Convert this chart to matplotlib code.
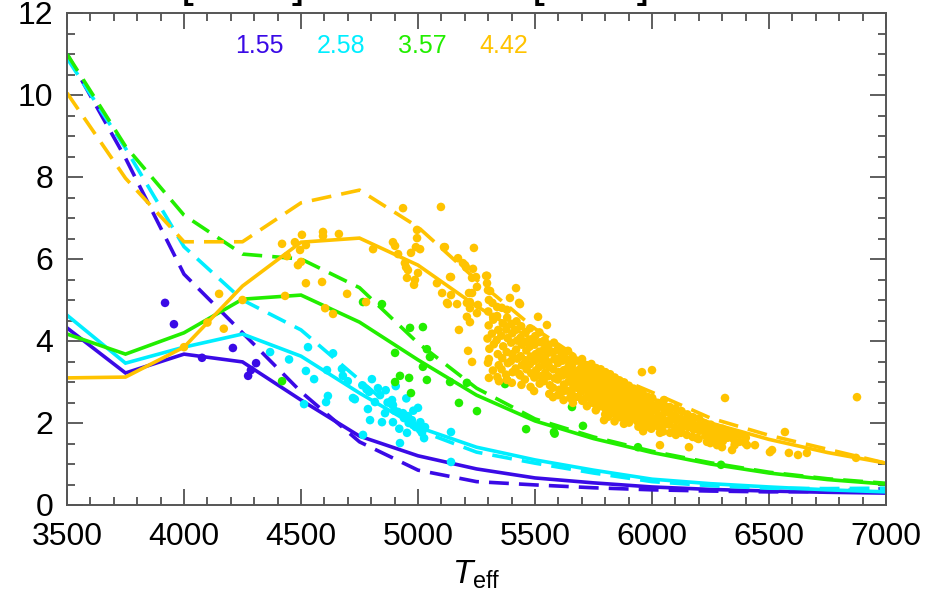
import numpy as np
import matplotlib
matplotlib.use("Agg")
import matplotlib.pyplot as plt
from matplotlib.ticker import MultipleLocator

plt.rcParams['font.family'] = ['Liberation Sans', 'DejaVu Sans']
plt.rcParams['mathtext.fontset'] = 'custom'
plt.rcParams['mathtext.rm'] = 'Liberation Sans'
plt.rcParams['mathtext.it'] = 'Liberation Sans:italic'

# model grid
teff = [3500, 3750, 4000, 4250, 4500, 4750, 5000, 5250, 5500, 5750, 6000, 6250, 6500, 6750, 7000]

# solid / dashed curves for each group
blue_solid = [4.32, 3.22, 3.68, 3.49, 2.56, 1.68, 1.20, 0.88, 0.66, 0.54, 0.44, 0.38, 0.34, 0.31, 0.29]
blue_dash = [11.0, 8.46, 5.63, 4.20, 2.76, 1.54, 0.85, 0.57, 0.49, 0.42, 0.37, 0.34, 0.32, 0.33, 0.40]
cyan_solid = [4.63, 3.46, 3.85, 4.17, 3.63, 2.73, 1.90, 1.41, 1.10, 0.85, 0.63, 0.52, 0.44, 0.37, 0.32]
cyan_dash = [10.9, 8.70, 6.30, 5.00, 4.27, 3.05, 1.83, 1.29, 1.02, 0.78, 0.57, 0.47, 0.41, 0.40, 0.41]
green_solid = [4.17, 3.68, 4.20, 5.02, 5.12, 4.46, 3.54, 2.68, 2.05, 1.62, 1.28, 1.00, 0.78, 0.62, 0.51]
green_dash = [11.0, 8.75, 7.07, 6.12, 6.00, 5.30, 3.95, 2.85, 2.10, 1.66, 1.31, 1.03, 0.80, 0.64, 0.53]
orange_solid = [3.10, 3.12, 3.85, 5.34, 6.41, 6.51, 5.85, 4.85, 4.00, 3.30, 2.60, 2.00, 1.60, 1.28, 1.02]
orange_dash = [10.05, 7.97, 6.42, 6.42, 7.37, 7.68, 6.78, 5.49, 4.30, 3.35, 2.75, 2.12, 1.70, 1.36, 1.02]

labels = ['1.55', '2.58', '3.57', '4.42']
colors = ['#3a0ae6', '#00eeff', '#22ee00', '#ffc300']

# observed stars
blue_pts = [(3919, 4.93), (3957, 4.41), (4077, 3.59), (4209, 3.83), (4308, 3.46),
            (4286, 3.29), (4274, 3.15)]

cyan_pts = [(4368, 3.73), (4449, 3.55), (4530, 3.85), (4521, 3.27), (4556, 3.07),
            (4611, 3.29), (4637, 3.70), (4675, 3.32), (4679, 3.15), (4615, 2.66),
            (4607, 2.51), (4513, 2.46), (4722, 2.61), (4730, 2.58), (4803, 3.07),
            (4829, 2.85), (4791, 2.76), (4838, 2.68), (4816, 2.51), (4859, 2.24),
            (4889, 2.56), (4893, 2.44), (4915, 2.27), (4936, 2.24), (4957, 2.17),
            (4974, 2.07), (4979, 1.95), (5000, 2.37), (5009, 1.83), (5017, 1.76),
            (5026, 1.63), (4953, 1.76), (4923, 1.51), (4893, 2.02), (4846, 2.02),
            (4795, 2.07), (4786, 2.34), (4765, 1.71), (5141, 1.78), (5141, 1.05),
            (4960, 2.00), (4990, 1.90), (5010, 2.02), (4940, 2.12), (4900, 2.30),
            (4870, 2.50), (4950, 2.60), (4980, 2.30), (5030, 1.90), (4920, 1.86),
            (4862, 2.80), (4905, 2.90), (4780, 2.82), (4700, 3.02), (4762, 2.92)]

green_pts = [(4419, 3.02), (4765, 4.95), (4846, 4.90), (4902, 3.71), (4923, 3.15),
             (4902, 3.00), (4962, 3.10), (4966, 4.32), (5021, 4.34), (5038, 3.80),
             (5051, 3.61), (5021, 3.37), (5038, 3.05), (4970, 2.73), (5137, 3.00),
             (5175, 2.49), (5252, 2.29), (5372, 2.95), (5380, 3.05), (5462, 1.85),
             (5581, 1.78), (5584, 1.74), (5658, 2.39), (5705, 1.93), (5940, 1.41),
             (6295, 0.98), (5209, 2.98)]

orange_pts = [
    # scattered stars
    (4000, 3.85), (4150, 5.15), (4100, 4.45), (4170, 4.30), (4250, 5.00),
    (4419, 6.37), (4440, 6.07), (4474, 6.41), (4496, 6.22), (4504, 6.59),
    (4521, 6.34), (4487, 5.85), (4500, 5.93), (4594, 6.66), (4594, 6.56),
    (4662, 6.61), (4521, 5.41), (4590, 5.44), (4603, 4.80), (4637, 4.66),
    (4697, 5.15), (4778, 4.95), (4432, 5.10), (4808, 6.24), (4893, 6.41),
    (4902, 6.32), (4915, 6.12), (4936, 7.24), (4970, 6.15), (4944, 5.90),
    (4949, 5.80), (4957, 5.73), (4953, 5.54), (4987, 5.49), (4983, 5.37),
    (5000, 5.66), (4996, 6.71), (4996, 6.51), (4991, 6.29), (5009, 6.24),
    (5098, 7.27), (5111, 6.29), (5081, 5.41), (5103, 5.17), (5128, 4.90),
    (5141, 5.56), (5141, 5.12), (5171, 6.02), (5192, 5.90), (5205, 5.80),
    (5239, 6.27), (5175, 4.27), (5218, 5.17), (5222, 4.95), (5231, 5.54),
    (5252, 5.32), (5295, 5.59), (5295, 5.41), (5299, 5.24), (5303, 5.00),
    (5419, 5.29), (5393, 5.05), (5432, 4.93), (5380, 4.76), (5338, 4.83),
    (5321, 4.59), (5256, 4.88), (5252, 4.68), (5222, 4.80), (5209, 4.59),
    (5115, 6.29), (5201, 5.85), (5235, 5.76), (5137, 5.56), (5248, 5.56),
    (5291, 5.59), (5124, 4.93), (5167, 4.90), (5308, 5.22), (5436, 4.90),
    (5231, 5.17), (5209, 4.93), (5222, 4.46), (5214, 3.76), (5231, 3.49),
    (5303, 3.56), (5303, 3.10), (5346, 3.02), (5380, 3.05), (5432, 3.20),
    (5496, 2.78), (5513, 4.59), (5551, 4.39), (5577, 2.63), (5598, 2.68),
    (5650, 2.61), (5671, 2.63), (5748, 2.49), (5795, 2.07), (5812, 2.15),
    (5863, 2.24), (5880, 1.98), (5962, 1.80), (6034, 1.76), (6034, 1.46),
    (5962, 1.95), (6000, 3.29), (5957, 3.24), (6158, 1.41), (6154, 2.15),
    (6124, 1.76), (6154, 1.90), (6192, 1.63), (6235, 1.54), (6248, 1.83),
    (6278, 1.46), (6312, 2.61), (6282, 1.83), (6321, 1.76), (6342, 1.34),
    (6355, 1.51), (6406, 1.46), (6440, 1.46), (6504, 1.29), (6513, 1.34),
    (6568, 1.78), (6585, 1.27), (6624, 1.22), (6662, 1.27), (6876, 2.63),
    (6872, 1.15),
    # dense clump
    (5300, 4.72), (5302, 4.38), (5297, 4.06), (5305, 3.81), (5299, 3.47),
    (5318, 4.93), (5322, 4.52), (5316, 4.18), (5324, 3.92), (5320, 3.28),
    (5338, 4.61), (5343, 4.27), (5336, 4.02), (5341, 3.68), (5345, 3.41), (5339, 3.12),
    (5358, 4.81), (5362, 4.43), (5356, 4.13), (5364, 3.87), (5360, 3.58), (5357, 3.31),
    (5381, 4.57), (5377, 4.28), (5383, 4.07), (5379, 3.73), (5384, 3.46), (5376, 3.18),
    (5399, 4.42), (5403, 4.19), (5398, 3.96), (5402, 3.68), (5397, 3.51), (5404, 3.24), (5401, 2.98),
    (5421, 4.48), (5418, 4.27), (5423, 4.01), (5419, 3.79), (5424, 3.57), (5417, 3.33),
    (5441, 4.36), (5438, 4.08), (5443, 3.91), (5439, 3.63), (5444, 3.41), (5437, 3.16), (5442, 2.93),
    (5461, 4.22), (5458, 3.98), (5463, 3.77), (5459, 3.53), (5464, 3.31), (5457, 3.06),
    (5479, 4.31), (5483, 4.04), (5477, 3.86), (5482, 3.62), (5478, 3.43), (5484, 3.21), (5481, 2.88),
    (5501, 4.12), (5498, 3.91), (5503, 3.68), (5499, 3.52), (5504, 3.28), (5497, 3.11),
    (5519, 4.21), (5523, 3.97), (5518, 3.74), (5522, 3.56), (5517, 3.36), (5524, 3.14), (5520, 2.96),
    (5541, 4.02), (5538, 3.79), (5543, 3.61), (5539, 3.42), (5544, 3.23), (5537, 3.02),
    (5559, 3.91), (5563, 3.72), (5558, 3.48), (5562, 3.36), (5557, 3.14), (5564, 2.92), (5561, 2.71),
    (5581, 3.96), (5578, 3.73), (5583, 3.56), (5579, 3.31), (5584, 3.09), (5577, 2.86),
    (5599, 3.82), (5603, 3.58), (5598, 3.46), (5602, 3.24), (5597, 3.06), (5604, 2.81),
    (5621, 3.71), (5618, 3.52), (5623, 3.29), (5619, 3.16), (5624, 2.94), (5617, 2.76), (5622, 2.56),
    (5641, 3.76), (5638, 3.54), (5643, 3.37), (5639, 3.19), (5644, 3.01), (5637, 2.79),
    (5661, 3.62), (5658, 3.41), (5663, 3.24), (5659, 3.06), (5664, 2.89), (5657, 2.71), (5662, 2.49),
    (5679, 3.52), (5683, 3.28), (5678, 3.16), (5682, 2.99), (5677, 2.86), (5684, 2.64),
    (5701, 3.56), (5698, 3.36), (5703, 3.19), (5699, 3.06), (5704, 2.88), (5697, 2.76), (5702, 2.54),
    (5721, 3.41), (5718, 3.26), (5723, 3.09), (5719, 2.96), (5724, 2.79), (5717, 2.61), (5722, 2.41),
    (5741, 3.44), (5738, 3.29), (5743, 3.16), (5739, 2.98), (5744, 2.86), (5737, 2.69), (5742, 2.51),
    (5761, 3.34), (5758, 3.21), (5763, 3.04), (5759, 2.91), (5764, 2.74), (5757, 2.61), (5762, 2.44), (5760, 2.31),
    (5781, 3.31), (5778, 3.14), (5783, 3.01), (5779, 2.84), (5784, 2.71), (5777, 2.54), (5782, 2.41),
    (5801, 3.24), (5798, 3.11), (5803, 2.94), (5799, 2.81), (5804, 2.64), (5797, 2.51), (5802, 2.34), (5800, 2.21),
    (5821, 3.19), (5818, 3.06), (5823, 2.89), (5819, 2.76), (5824, 2.59), (5817, 2.46), (5822, 2.29),
    (5841, 3.11), (5838, 2.94), (5843, 2.81), (5839, 2.64), (5844, 2.51), (5837, 2.34), (5842, 2.21), (5840, 2.04),
    (5861, 3.04), (5858, 2.91), (5863, 2.74), (5859, 2.61), (5864, 2.44), (5857, 2.31), (5862, 2.14),
    (5881, 2.99), (5878, 2.86), (5883, 2.69), (5879, 2.56), (5884, 2.39), (5877, 2.26), (5882, 2.09),
    (5901, 2.91), (5898, 2.74), (5903, 2.61), (5899, 2.44), (5904, 2.31), (5897, 2.14), (5902, 2.01),
    (5921, 2.84), (5918, 2.71), (5923, 2.54), (5919, 2.41), (5924, 2.24), (5917, 2.11),
    (5941, 2.81), (5938, 2.64), (5943, 2.51), (5939, 2.34), (5944, 2.21), (5937, 2.04), (5942, 1.91),
    (5961, 2.71), (5958, 2.54), (5963, 2.41), (5959, 2.24), (5964, 2.11), (5957, 1.94),
    (5981, 2.64), (5978, 2.51), (5983, 2.34), (5979, 2.21), (5984, 2.04), (5977, 1.91),
    (6001, 2.61), (5998, 2.44), (6003, 2.31), (5999, 2.14), (6004, 2.01), (5997, 1.86),
    (6026, 2.49), (6023, 2.36), (6028, 2.19), (6024, 2.06), (6027, 1.91),
    (6051, 2.56), (6048, 2.39), (6053, 2.26), (6049, 2.09), (6054, 1.96), (6047, 1.79),
    (6076, 2.39), (6073, 2.26), (6078, 2.09), (6074, 1.96), (6077, 1.76),
    (6101, 2.36), (6098, 2.19), (6103, 2.06), (6099, 1.89), (6102, 1.71),
    (6126, 2.29), (6123, 2.11), (6128, 1.94), (6124, 1.81),
    (6151, 2.21), (6148, 2.04), (6153, 1.91), (6149, 1.71),
    (6176, 2.14), (6173, 2.01), (6178, 1.84), (6174, 1.66),
    (6201, 2.11), (6198, 1.94), (6203, 1.81), (6199, 1.61),
    (6226, 1.99), (6223, 1.86), (6228, 1.69),
    (6251, 1.96), (6248, 1.79), (6253, 1.66), (6249, 1.51),
    (6276, 1.89), (6273, 1.76), (6278, 1.59),
    (6301, 1.86), (6298, 1.69), (6303, 1.56), (6299, 1.41),
    (6326, 1.79), (6323, 1.64),
    (6351, 1.74), (6348, 1.61), (6353, 1.46),
    (6376, 1.71), (6373, 1.54),
    (6401, 1.64), (6398, 1.51),
]

fig = plt.figure(figsize=(9.26, 5.97), dpi=100)
ax = fig.add_axes([67 / 926, 92 / 597, 819 / 926, 492 / 597])

solids = [blue_solid, cyan_solid, green_solid, orange_solid]
dashes = [blue_dash, cyan_dash, green_dash, orange_dash]
for s, d, c in zip(solids, dashes, colors):
    ax.plot(teff, s, color=c, lw=2.6, solid_joinstyle='miter', zorder=2)
    ax.plot(teff, d, color=c, lw=2.6, linestyle=(0, (5.5, 2.8)), zorder=2)

for pts, c in zip([blue_pts, cyan_pts, green_pts, orange_pts], colors):
    arr = np.array(pts)
    ax.scatter(arr[:, 0], arr[:, 1], s=38, color=c, edgecolors='none', zorder=3)

xpos = [0.2344, 0.3346, 0.4335, 0.5336]
for lab, c, xp in zip(labels, colors, xpos):
    ax.text(xp, 0.9335, lab, color=c, fontsize=18, ha='center', va='center',
            transform=ax.transAxes)

ax.set_xlim(3500, 7000)
ax.set_ylim(0, 12)
ax.xaxis.set_major_locator(MultipleLocator(500))
ax.xaxis.set_minor_locator(MultipleLocator(100))
ax.yaxis.set_major_locator(MultipleLocator(2))
ax.yaxis.set_minor_locator(MultipleLocator(0.5))
ax.tick_params(which='both', direction='in', top=True, right=True, color='#333333', width=1.1)
ax.tick_params(which='major', length=11.5, labelsize=23)
ax.tick_params(which='minor', length=5.8)
ax.tick_params(axis='x', pad=12)
ax.tick_params(axis='y', pad=10)
for sp in ax.spines.values():
    sp.set_color('#555555')
    sp.set_linewidth(1.4)

ax.set_xlabel(r'$T_{\rm eff}$', fontsize=24, labelpad=5)

fig.canvas.draw()
ylabs = ax.get_yticklabels()
ylabs[0].set_va('bottom')
ylabs[-1].set_va('top')

# title line clipped by the top edge
fig.text(181 / 926, 1 + 4 / 597, '[Fe/H]', fontsize=33, ha='left', va='baseline')
fig.text(531 / 926, 1 + 4 / 597, r'[$\alpha$/Fe]', fontsize=33, ha='left', va='baseline')

fig.savefig('out.png', dpi=100)
